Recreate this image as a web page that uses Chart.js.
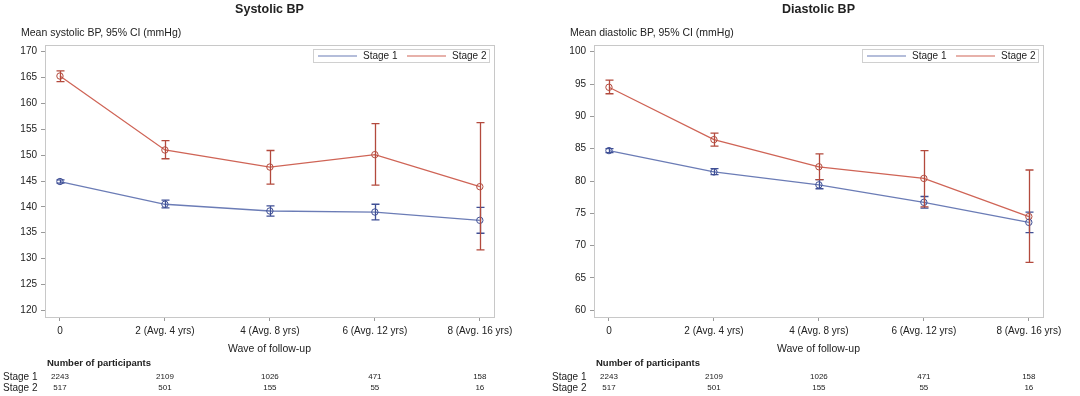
<!DOCTYPE html>
<html>
<head>
<meta charset="utf-8">
<script src="https://cdn.jsdelivr.net/npm/chart.js@4"></script>
<style>
  body { margin: 0; background: #fff; width: 1080px; height: 396px; position: relative; overflow: hidden; }
  canvas { position: absolute; top: 0; }
  #sysChart { left: 0; }
  #diaChart { left: 549px; }
</style>
</head>
<body>
<canvas id="sysChart" width="531" height="396"></canvas>
<canvas id="diaChart" width="531" height="396"></canvas>
<script>
// waves of follow-up
const waves = [0, 2, 4, 6, 8];
const waveLabels = ["0", "2 (Avg. 4 yrs)", "4 (Avg. 8 yrs)", "6 (Avg. 12 yrs)", "8 (Avg. 16 yrs)"];

// systolic means and 95% CI
const sysStage1 = [144.9, 140.5, 139.2, 139.0, 137.4];
const sysStage1Lo = [144.6, 139.8, 138.2, 137.5, 134.9];
const sysStage1Hi = [145.2, 141.3, 140.2, 140.5, 139.9];
const sysStage2 = [165.3, 151.0, 147.7, 150.1, 143.9];
const sysStage2Lo = [164.2, 149.3, 144.4, 144.2, 131.7];
const sysStage2Hi = [166.3, 152.8, 150.9, 156.1, 156.3];
const sysTicks = [120, 125, 130, 135, 140, 145, 150, 155, 160, 165, 170];

// diastolic means and 95% CI
const diaStage1 = [84.7, 81.4, 79.4, 76.7, 73.6];
const diaStage1Lo = [84.4, 81.0, 78.8, 75.8, 72.0];
const diaStage1Hi = [85.0, 81.9, 80.2, 77.6, 75.2];
const diaStage2 = [94.5, 86.4, 82.2, 80.4, 74.5];
const diaStage2Lo = [93.5, 85.4, 80.2, 76.0, 67.4];
const diaStage2Hi = [95.6, 87.4, 84.2, 84.7, 81.7];
const diaTicks = [60, 65, 70, 75, 80, 85, 90, 95, 100];

// number of participants
const nStage1 = [2243, 2109, 1026, 471, 158];
const nStage2 = [517, 501, 155, 55, 16];

const FONT = "'Liberation Sans', Arial, sans-serif";
const TXT = "#222";
const lineBlue = "#6b7cb6";
const lineRed = "#cf6456";
const barBlue = "#3f4f95";
const barRed = "#b34a3d";

// error bars, frame, legend, titles and the participants table
const extrasPlugin = {
  id: "extras",
  afterDatasetsDraw(chart) {
    const ctx = chart.ctx;
    const xs = chart.scales.x;
    const ys = chart.scales.y;
    chart.data.datasets.forEach((ds) => {
      ctx.save();
      ctx.strokeStyle = ds.barColor;
      ctx.lineWidth = 1.3;
      ds.lo.forEach((lo, j) => {
        const x = Math.round(xs.getPixelForValue(waves[j])) + 0.5;
        const y1 = ys.getPixelForValue(lo);
        const y2 = ys.getPixelForValue(ds.hi[j]);
        ctx.beginPath();
        ctx.moveTo(x, y1); ctx.lineTo(x, y2);
        ctx.moveTo(x - 4, y1); ctx.lineTo(x + 4, y1);
        ctx.moveTo(x - 4, y2); ctx.lineTo(x + 4, y2);
        ctx.stroke();
      });
      ctx.restore();
    });
  },
  afterDraw(chart, args, opts) {
    const ctx = chart.ctx;
    const a = chart.chartArea;
    const xs = chart.scales.x;
    ctx.save();
    // plot frame
    ctx.strokeStyle = "#c8c8c8";
    ctx.lineWidth = 1;
    ctx.strokeRect(Math.round(a.left) + 0.5, Math.round(a.top) + 0.5, Math.round(a.right - a.left), Math.round(a.bottom - a.top));

    // legend, inside the top right corner
    const lx = Math.round(a.right) - 181;
    const ly = Math.round(a.top) + 4;
    ctx.strokeStyle = "#d0d0d0";
    ctx.strokeRect(lx + 0.5, ly + 0.5, 176, 13);
    ctx.font = "10px " + FONT;
    ctx.textBaseline = "middle";
    ctx.textAlign = "left";
    let cx = lx + 5;
    chart.data.datasets.forEach((ds) => {
      ctx.strokeStyle = ds.borderColor;
      ctx.lineWidth = 1.2;
      ctx.beginPath();
      ctx.moveTo(cx, ly + 7); ctx.lineTo(cx + 39, ly + 7);
      ctx.stroke();
      ctx.fillStyle = TXT;
      ctx.fillText(ds.label, cx + 45, ly + 7);
      cx += 89;
    });

    ctx.fillStyle = TXT;
    // title
    ctx.font = "bold 12.5px " + FONT;
    ctx.textAlign = "center";
    ctx.fillText(opts.title, (a.left + a.right) / 2, 10);
    // y axis label
    ctx.font = "10.5px " + FONT;
    ctx.textAlign = "left";
    ctx.fillText(opts.yLabel, 21, 33);
    // x axis label
    ctx.textAlign = "center";
    ctx.fillText("Wave of follow-up", (a.left + a.right) / 2, 349);

    // table
    ctx.font = "bold 9.5px " + FONT;
    ctx.textAlign = "left";
    ctx.fillText("Number of participants", 47, 363);
    ctx.font = "10px " + FONT;
    ctx.fillText("Stage 1", 3, 377);
    ctx.fillText("Stage 2", 3, 388);
    ctx.font = "8px " + FONT;
    ctx.textAlign = "center";
    waves.forEach((w, j) => {
      const x = xs.getPixelForValue(w);
      ctx.fillText(String(nStage1[j]), x, 377);
      ctx.fillText(String(nStage2[j]), x, 388);
    });
    ctx.restore();
  },
};

function makeDataset(label, values, lo, hi, lineColor, barColor) {
  return {
    label: label,
    data: waves.map((w, j) => ({ x: w, y: values[j] })),
    lo: lo,
    hi: hi,
    barColor: barColor,
    borderColor: lineColor,
    borderWidth: 1.3,
    tension: 0,
    pointRadius: 3.2,
    pointBorderWidth: 1,
    pointBorderColor: barColor,
    pointBackgroundColor: "rgba(255,255,255,0)",
    pointStyle: "circle",
  };
}

function makeChart(id, title, yLabel, datasets, yTicks, yMin, yMax) {
  return new Chart(document.getElementById(id), {
    type: "line",
    data: { datasets: datasets },
    options: {
      responsive: false,
      animation: false,
      layout: { padding: { top: 45, right: 37, left: 0, bottom: 0 } },
      plugins: {
        tooltip: { enabled: false },
        extras: { title: title, yLabel: yLabel },
        legend: { display: false },
      },
      scales: {
        x: {
          type: "linear",
          min: -0.285,
          max: 8.27,
          afterFit: (scale) => { scale.height = 79; },
          afterBuildTicks: (scale) => { scale.ticks = waves.map((v) => ({ value: v })); },
          grid: { drawOnChartArea: false, tickLength: 4, color: "#9a9a9a" },
          border: { color: "#c8c8c8" },
          ticks: {
            padding: 4,
            color: TXT,
            font: { family: FONT, size: 10 },
            maxRotation: 0,
            autoSkip: false,
            callback: (v) => waveLabels[waves.indexOf(v)],
          },
        },
        y: {
          min: yMin,
          max: yMax,
          afterFit: (scale) => { scale.width = 45; },
          afterBuildTicks: (scale) => { scale.ticks = yTicks.map((v) => ({ value: v })); },
          grid: { drawOnChartArea: false, tickLength: 4, color: "#9a9a9a" },
          border: { color: "#c8c8c8" },
          ticks: {
            padding: 4,
            color: TXT,
            font: { family: FONT, size: 10 },
          },
        },
      },
    },
    plugins: [extrasPlugin],
  });
}

makeChart("sysChart", "Systolic BP", "Mean systolic BP, 95% CI (mmHg)", [
  makeDataset("Stage 1", sysStage1, sysStage1Lo, sysStage1Hi, lineBlue, barBlue),
  makeDataset("Stage 2", sysStage2, sysStage2Lo, sysStage2Hi, lineRed, barRed),
], sysTicks, 118.7, 171.3);

makeChart("diaChart", "Diastolic BP", "Mean diastolic BP, 95% CI (mmHg)", [
  makeDataset("Stage 1", diaStage1, diaStage1Lo, diaStage1Hi, lineBlue, barBlue),
  makeDataset("Stage 2", diaStage2, diaStage2Lo, diaStage2Hi, lineRed, barRed),
], diaTicks, 58.96, 101.04);
</script>
</body>
</html>
